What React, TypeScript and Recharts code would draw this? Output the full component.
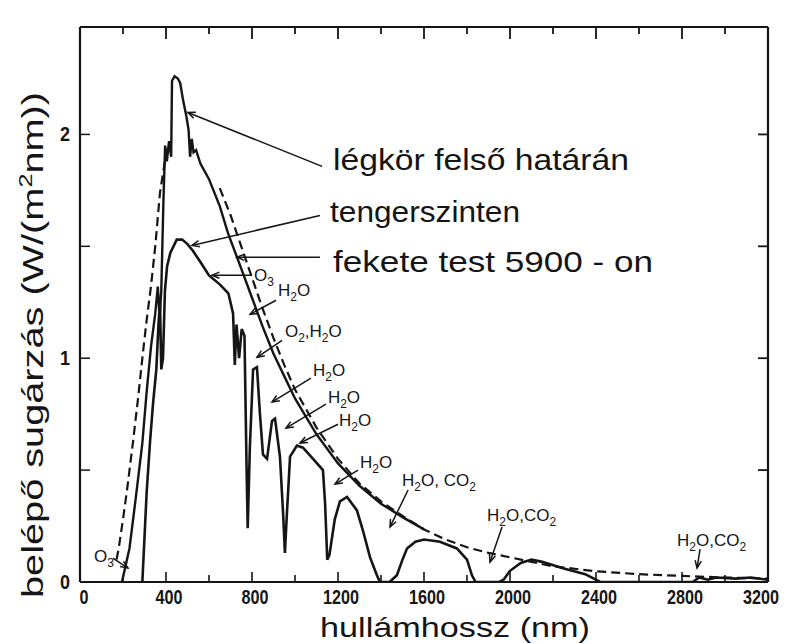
import React from "react";
import { LineChart, Line, XAxis, YAxis, ReferenceLine, ReferenceDot } from "recharts";

const W = 788;
const H = 644;
const INK = "#151515";
const SANS = '"Liberation Sans", Arial, Helvetica, sans-serif';

// légkör felső határán (top of atmosphere)
const etNm = [195, 230, 260, 290, 310, 330, 350, 362, 370, 378, 388, 396, 404, 414, 424, 428, 440, 455, 466, 480, 495, 505, 512, 520, 528, 540, 560, 600, 650, 688, 750, 800, 850, 900, 950, 1000, 1100, 1200, 1300, 1400, 1500, 1600];
const etVal = [0, 0.15, 0.38, 0.62, 0.85, 1.05, 1.2, 1.32, 1.18, 1.3, 1.7, 1.95, 1.88, 1.97, 1.9, 2.24, 2.26, 2.25, 2.23, 2.15, 2.08, 2.02, 1.9, 1.98, 1.92, 1.93, 1.87, 1.8, 1.68, 1.56, 1.4, 1.27, 1.14, 1.02, 0.92, 0.82, 0.66, 0.53, 0.43, 0.35, 0.29, 0.235];

// tengerszinten (sea level)
const slNm = [290, 300, 310, 326, 340, 355, 365, 372, 378, 386, 395, 405, 420, 450, 475, 500, 525, 560, 600, 650, 690, 712, 720, 728, 740, 752, 765, 775, 780, 790, 805, 823, 837, 851, 870, 893, 907, 930, 945, 953, 962, 977, 1009, 1037, 1084, 1130, 1140, 1150, 1160, 1185, 1209, 1242, 1288, 1316, 1349, 1381, 1395, 1440, 1474, 1500, 1521, 1560, 1600, 1674, 1753, 1800, 1823, 1840, 1950, 1970, 2000, 2050, 2100, 2150, 2250, 2350, 2420, 2850, 2880, 2920, 2960, 3050, 3120, 3200];
const slVal = [0, 0.2, 0.4, 0.63, 0.8, 0.95, 1.15, 1.25, 0.95, 1.0, 1.3, 1.41, 1.47, 1.53, 1.53, 1.51, 1.48, 1.43, 1.37, 1.33, 1.29, 1.2, 0.97, 1.15, 1.0, 1.13, 1.1, 0.5, 0.24, 0.6, 0.95, 0.96, 0.75, 0.57, 0.55, 0.72, 0.73, 0.56, 0.3, 0.13, 0.3, 0.56, 0.61, 0.6, 0.55, 0.5, 0.35, 0.1, 0.12, 0.28, 0.36, 0.38, 0.32, 0.23, 0.11, 0.03, 0, 0, 0.03, 0.1, 0.15, 0.18, 0.19, 0.18, 0.15, 0.1, 0.03, 0, 0, 0.01, 0.05, 0.085, 0.1, 0.09, 0.06, 0.035, 0, 0, 0.02, 0.01, 0.02, 0.015, 0.02, 0.01];

// fekete test 5900 K (black body), hidden under the peak
const bbNm = [170, 180, 200, 220, 247, 270, 290, 310, 330, 350, 372, 395, 410, 420, 650, 700, 750, 800, 850, 900, 950, 1000, 1100, 1200, 1300, 1400, 1500, 1600, 1700, 1800, 1900, 2000, 2200, 2400, 2600, 2800, 3000, 3200];
const bbVal = [0.1, 0.15, 0.28, 0.42, 0.63, 0.82, 1.0, 1.17, 1.32, 1.5, 1.74, 1.88, 1.95, null, 1.76, 1.64, 1.5, 1.36, 1.22, 1.09, 0.97, 0.86, 0.69, 0.55, 0.44, 0.36, 0.295, 0.235, 0.19, 0.155, 0.13, 0.11, 0.07, 0.048, 0.035, 0.027, 0.02, 0.015];

const xTicks = [0, 200, 400, 600, 800, 1000, 1200, 1400, 1600, 1800, 2000, 2200, 2400, 2600, 2800, 3000, 3200];
const yTicks = [0, 0.5, 1, 1.5, 2];

const seriesLabels = ["légkör felső határán", "tengerszinten", "fekete test 5900 - on"];
const seriesLabelAt = [
  { nm: 1177, v: 1.839, w: 296, from: [1126, 1.857], to: [502, 2.098] },
  { nm: 1163, v: 1.607, w: 190, from: [1116, 1.638], to: [521, 1.504] },
  { nm: 1177, v: 1.384, w: 320, from: [1116, 1.451], to: [730, 1.451] },
];

const bandLabels = ["O3", "H2O", "O2,H2O", "H2O", "H2O", "H2O", "H2O", "H2O, CO2", "H2O,CO2", "H2O,CO2", "O3"];
const bandLabelAt = [
  { nm: 809, v: 1.344, from: [800, 1.371], to: [614, 1.371] },
  { nm: 921, v: 1.277, from: [912, 1.259], to: [791, 1.196] },
  { nm: 953, v: 1.094, from: [940, 1.08], to: [823, 1.004] },
  { nm: 1084, v: 0.92, from: [1074, 0.911], to: [893, 0.804] },
  { nm: 1153, v: 0.799, from: [1144, 0.795], to: [958, 0.688] },
  { nm: 1205, v: 0.696, from: [1200, 0.705], to: [1023, 0.621] },
  { nm: 1302, v: 0.509, from: [1293, 0.5], to: [1186, 0.4375] },
  { nm: 1498, v: 0.429, from: [1526, 0.411], to: [1442, 0.246] },
  { nm: 1893, v: 0.272, from: [1963, 0.246], to: [1907, 0.089] },
  { nm: 2777, v: 0.161, from: [2884, 0.147], to: [2870, 0.0625] },
  { nm: 65, v: 0.089, from: [153, 0.107], to: [223, 0.0625] },
];

const toPoints = (nm: number[], val: (number | null)[]) => nm.map((x, i) => ({ nm: x, v: val[i] }));

function chemParts(s: string) {
  const parts: { t: string; sub: boolean }[] = [];
  for (let i = 0; i < s.length; i++) {
    const c = s[i];
    const sub = /\d/.test(c) && i > 0 && /[A-Za-z]/.test(s[i - 1]);
    const last = parts[parts.length - 1];
    if (last && last.sub === sub) last.t += c;
    else parts.push({ t: c, sub });
  }
  return parts;
}

function Leader(p: any) {
  const { x1, y1, x2, y2 } = p;
  const a = Math.atan2(y2 - y1, x2 - x1);
  const L = 8;
  const h1 = `${x2 - L * Math.cos(a - 0.4)},${y2 - L * Math.sin(a - 0.4)}`;
  const h2 = `${x2 - L * Math.cos(a + 0.4)},${y2 - L * Math.sin(a + 0.4)}`;
  return (
    <g>
      <line x1={x1} y1={y1} x2={x2} y2={y2} stroke={INK} strokeWidth={1.5} />
      <path d={`M${h1}L${x2},${y2}L${h2}`} fill="none" stroke={INK} strokeWidth={1.5} />
    </g>
  );
}

function BottomTick({ x, y, payload }: any) {
  const v = payload.value;
  const major = v % 400 === 0;
  const s = String(v);
  const shift = v === 3200 ? -7 : v === 0 ? 4 : 3;
  return (
    <g>
      {v > 0 && v < 3200 && (
        <line x1={x} x2={x} y1={y} y2={y - (major ? 10 : 7)} stroke={INK} strokeWidth={1.6} />
      )}
      {major && (
        <text x={x + shift} y={y + 22} textAnchor="middle" fontFamily={SANS} fontWeight="bold" fontSize={20}
          textLength={s.length * 9} lengthAdjust="spacingAndGlyphs" fill={INK}>
          {s}
        </text>
      )}
    </g>
  );
}

function TopTick({ x, y, payload }: any) {
  const v = payload.value;
  if (v <= 0 || v >= 3200) return null;
  const major = v % 400 === 0;
  return <line x1={x} x2={x} y1={y} y2={y + (major ? 12 : 7)} stroke={INK} strokeWidth={1.8} />;
}

function LeftTick({ x, y, payload }: any) {
  const v = payload.value;
  const whole = Number.isInteger(v);
  return (
    <g>
      {v > 0 && <line x1={x} x2={x + 10} y1={y} y2={y} stroke={INK} strokeWidth={1.5} />}
      {whole && (
        <text x={x - 10} y={y + 7} textAnchor="end" fontFamily={SANS} fontWeight="bold" fontSize={21}
          textLength={10} lengthAdjust="spacingAndGlyphs" fill={INK}>
          {v}
        </text>
      )}
    </g>
  );
}

function RightTick({ x, y, payload }: any) {
  const v = payload.value;
  if (v <= 0) return null;
  return <line x1={x} x2={x - 10} y1={y} y2={y} stroke={INK} strokeWidth={1.8} />;
}

export default function App() {
  const et = toPoints(etNm, etVal);
  const sl = toPoints(slNm, slVal);
  const bb = toPoints(bbNm, bbVal);

  return (
    <div style={{ position: "absolute", left: 0, top: 0, width: W, height: H, background: "#fff" }}>
      <LineChart width={W} height={H} margin={{ top: 0, right: 0, bottom: 0, left: 0 }}>
        <XAxis xAxisId="b" dataKey="nm" type="number" domain={[0, 3200]} ticks={xTicks} interval={0}
          allowDataOverflow height={62} tickSize={0} tickMargin={0} tickLine={false}
          axisLine={{ stroke: INK, strokeWidth: 2.2 }} tick={<BottomTick />} />
        <XAxis xAxisId="t" orientation="top" dataKey="nm" type="number" domain={[0, 3200]} ticks={xTicks}
          interval={0} allowDataOverflow height={27} tickSize={0} tickMargin={0} tickLine={false}
          axisLine={{ stroke: INK, strokeWidth: 2.2 }} tick={<TopTick />} />
        <YAxis yAxisId="l" type="number" domain={[0, 2.48]} ticks={yTicks} interval={0} allowDataOverflow
          width={80} tickSize={0} tickMargin={0} tickLine={false}
          axisLine={{ stroke: INK, strokeWidth: 2.2 }} tick={<LeftTick />} />
        <YAxis yAxisId="r" orientation="right" type="number" domain={[0, 2.48]} ticks={yTicks} interval={0}
          allowDataOverflow width={20} tickSize={0} tickMargin={0} tickLine={false}
          axisLine={{ stroke: INK, strokeWidth: 2.2 }} tick={<RightTick />} />

        <Line xAxisId="b" yAxisId="l" data={bb} dataKey="v" type="linear" stroke={INK} strokeWidth={2.2}
          strokeDasharray="9 5" dot={false} activeDot={false} isAnimationActive={false} />
        <Line xAxisId="b" yAxisId="l" data={sl} dataKey="v" type="linear" stroke={INK} strokeWidth={2.6}
          dot={false} activeDot={false} isAnimationActive={false} />
        <Line xAxisId="b" yAxisId="l" data={et} dataKey="v" type="linear" stroke={INK} strokeWidth={2.4}
          dot={false} activeDot={false} isAnimationActive={false} />

        {seriesLabelAt.map((a, i) => (
          <ReferenceLine key={`sl${i}`} xAxisId="b" yAxisId="l" ifOverflow="visible"
            segment={[{ x: a.from[0], y: a.from[1] }, { x: a.to[0], y: a.to[1] }]} shape={<Leader />} />
        ))}
        {bandLabelAt.map((a, i) => (
          <ReferenceLine key={`bl${i}`} xAxisId="b" yAxisId="l" ifOverflow="visible"
            segment={[{ x: a.from[0], y: a.from[1] }, { x: a.to[0], y: a.to[1] }]} shape={<Leader />} />
        ))}
        {seriesLabelAt.map((a, i) => (
          <ReferenceDot key={`st${i}`} xAxisId="b" yAxisId="l" x={a.nm} y={a.v} r={0} ifOverflow="visible"
            shape={(p: any) => (
              <text x={p.cx} y={p.cy} fontFamily={SANS} fontSize={30} fill={INK}
                textLength={a.w} lengthAdjust="spacingAndGlyphs">
                {seriesLabels[i]}
              </text>
            )} />
        ))}
        {bandLabelAt.map((a, i) => (
          <ReferenceDot key={`bt${i}`} xAxisId="b" yAxisId="l" x={a.nm} y={a.v} r={0} ifOverflow="visible"
            shape={(p: any) => {
              let shifted = false;
              return (
                <text x={p.cx} y={p.cy} fontFamily={SANS} fontSize={17} fill={INK}>
                  {chemParts(bandLabels[i]).map((part, k) => {
                    const dy = part.sub && !shifted ? 5 : !part.sub && shifted ? -5 : 0;
                    shifted = part.sub;
                    return (
                      <tspan key={k} dy={dy} fontSize={part.sub ? 12 : 17}>
                        {part.t}
                      </tspan>
                    );
                  })}
                </text>
              );
            }} />
        ))}
      </LineChart>

      <svg width={W} height={H} style={{ position: "absolute", left: 0, top: 0, pointerEvents: "none" }}>
        <text x={455} y={637} textAnchor="middle" fontFamily={SANS} fontSize={28} fill={INK}
          textLength={270} lengthAdjust="spacingAndGlyphs">
          hullámhossz (nm)
        </text>
        <text transform="translate(43,345) rotate(-90)" textAnchor="middle" fontFamily={SANS} fontSize={30}
          fill={INK} textLength={506} lengthAdjust="spacingAndGlyphs">
          belépő sugárzás (W/(m<tspan dy={-11} fontSize={19}>2</tspan>
          <tspan dy={11}>nm))</tspan>
        </text>
      </svg>
    </div>
  );
}
